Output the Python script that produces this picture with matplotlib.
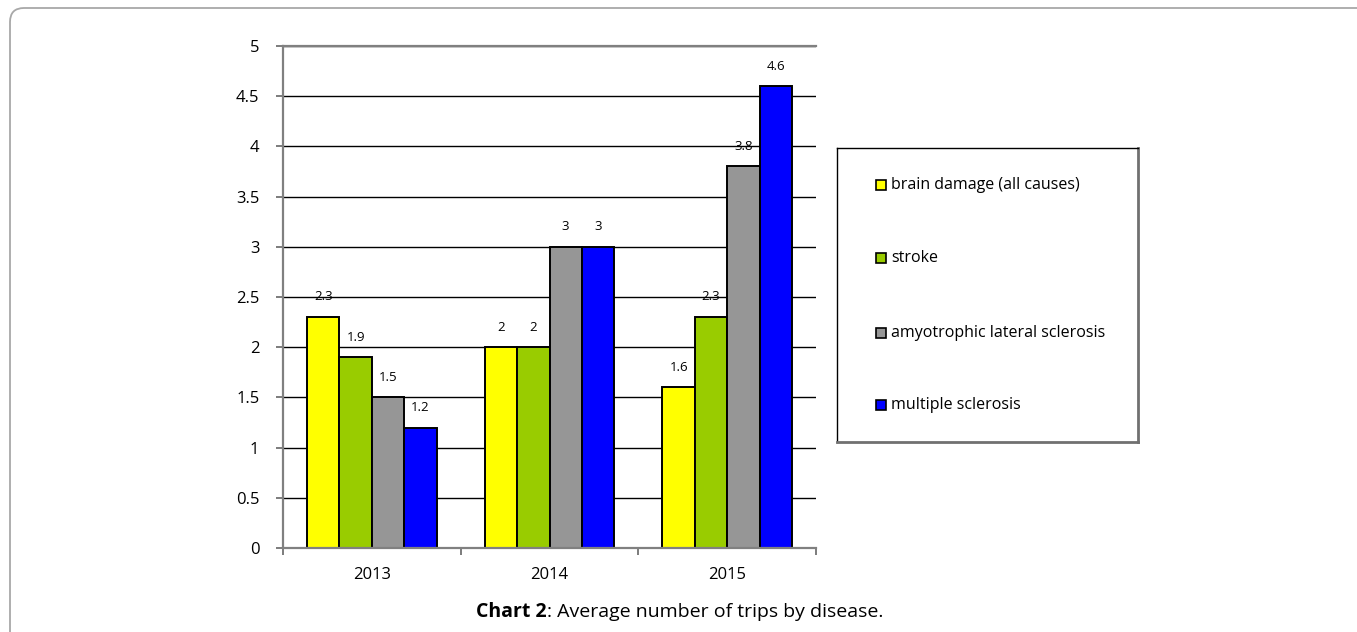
import matplotlib
matplotlib.use("Agg")
import matplotlib.pyplot as plt
from matplotlib.patches import FancyBboxPatch, Rectangle
import numpy as np

plt.rcParams['font.family'] = ['Open Sans', 'DejaVu Sans']

# data
years = ["2013", "2014", "2015"]
diseases = ["brain damage (all causes)", "stroke",
            "amyotrophic lateral sclerosis", "multiple sclerosis"]
brain_damage = [2.3, 2.0, 1.6]
stroke = [1.9, 2.0, 2.3]
als = [1.5, 3.0, 3.8]
ms = [1.2, 3.0, 4.6]
series = [brain_damage, stroke, als, ms]
colors = ["#FFFF00", "#99CC00", "#969696", "#0000FF"]

W, H = 1357, 632
fig = plt.figure(figsize=(W / 100, H / 100), dpi=100)

# outer rounded frame (cut off at right and bottom)
frame = FancyBboxPatch((10, -40), W + 60, H + 40 - 8,
                       boxstyle="round,pad=0,rounding_size=14",
                       transform=None, fill=False,
                       edgecolor="#a8a8a8", linewidth=1.3)
fig.patches.append(frame)

ax = fig.add_axes([283 / W, 1 - 548 / H, (816 - 283) / W, (548 - 46) / H])

x = np.arange(len(years))
bw = 0.182
for i, (vals, c) in enumerate(zip(series, colors)):
    pos = x + (i - 1.5) * bw
    bars = ax.bar(pos, vals, bw, color=c, edgecolor="black", linewidth=1.4,
                  label=diseases[i], zorder=3)
    for b, v in zip(bars, vals):
        ax.annotate(f"{v:g}", (b.get_x() + b.get_width() / 2, v),
                    xytext=(0, 14.5), textcoords="offset points",
                    ha="center", va="center", fontsize=9.5)

ax.set_xlim(-0.5, 2.5)
ax.set_ylim(0, 5)
yt = np.arange(0, 5.01, 0.5)
ax.set_yticks(yt)
ax.set_yticklabels([f"{v:g}" for v in yt])
ax.set_xticks(x)
ax.set_xticklabels(years)
ax.set_xticks([-0.5, 0.5, 1.5, 2.5], minor=True)
ax.tick_params(axis="x", which="major", length=0, pad=14, labelsize=12)
ax.tick_params(axis="x", which="minor", length=5, color="#666666", width=1.2)
ax.tick_params(axis="y", length=5, color="#666666", width=1.2, labelsize=12, pad=12)

ax.yaxis.grid(True, color="black", linewidth=1, zorder=0)
ax.set_axisbelow(True)
ax.spines["right"].set_visible(False)
for s in ["left", "bottom", "top"]:
    ax.spines[s].set_color("#808080")
    ax.spines[s].set_linewidth(1.6)
    ax.spines[s].set_zorder(4)

# legend box
lax = fig.add_axes([837 / W, 1 - 442 / H, (1138 - 837) / W, (442 - 148) / H])
lax.set_xlim(837, 1138)
lax.set_ylim(442, 148)
lax.set_xticks([])
lax.set_yticks([])
for s in lax.spines.values():
    s.set_color("black")
    s.set_linewidth(1.0)
lax.spines["right"].set_color("#707070")
lax.spines["bottom"].set_color("#707070")
lax.spines["right"].set_linewidth(2)
lax.spines["bottom"].set_linewidth(2)
row_y = [185, 258, 333, 405]
for name, c, yy in zip(diseases, colors, row_y):
    lax.add_patch(Rectangle((876, yy - 5), 10, 10, facecolor=c,
                            edgecolor="black", linewidth=1.2))
    lax.text(891, yy, name, ha="left", va="center", fontsize=11.5)

# caption: bold lead-in followed by regular text
cap = fig.text(476 / W, 1 - 612 / H, "Chart 2", ha="left", va="center",
               fontsize=14, fontweight="bold")
ax.annotate(": Average number of trips by disease.", xy=(1, 0.5), xycoords=cap,
            ha="left", va="center", fontsize=14, annotation_clip=False)

fig.savefig("out.png", dpi=100)
